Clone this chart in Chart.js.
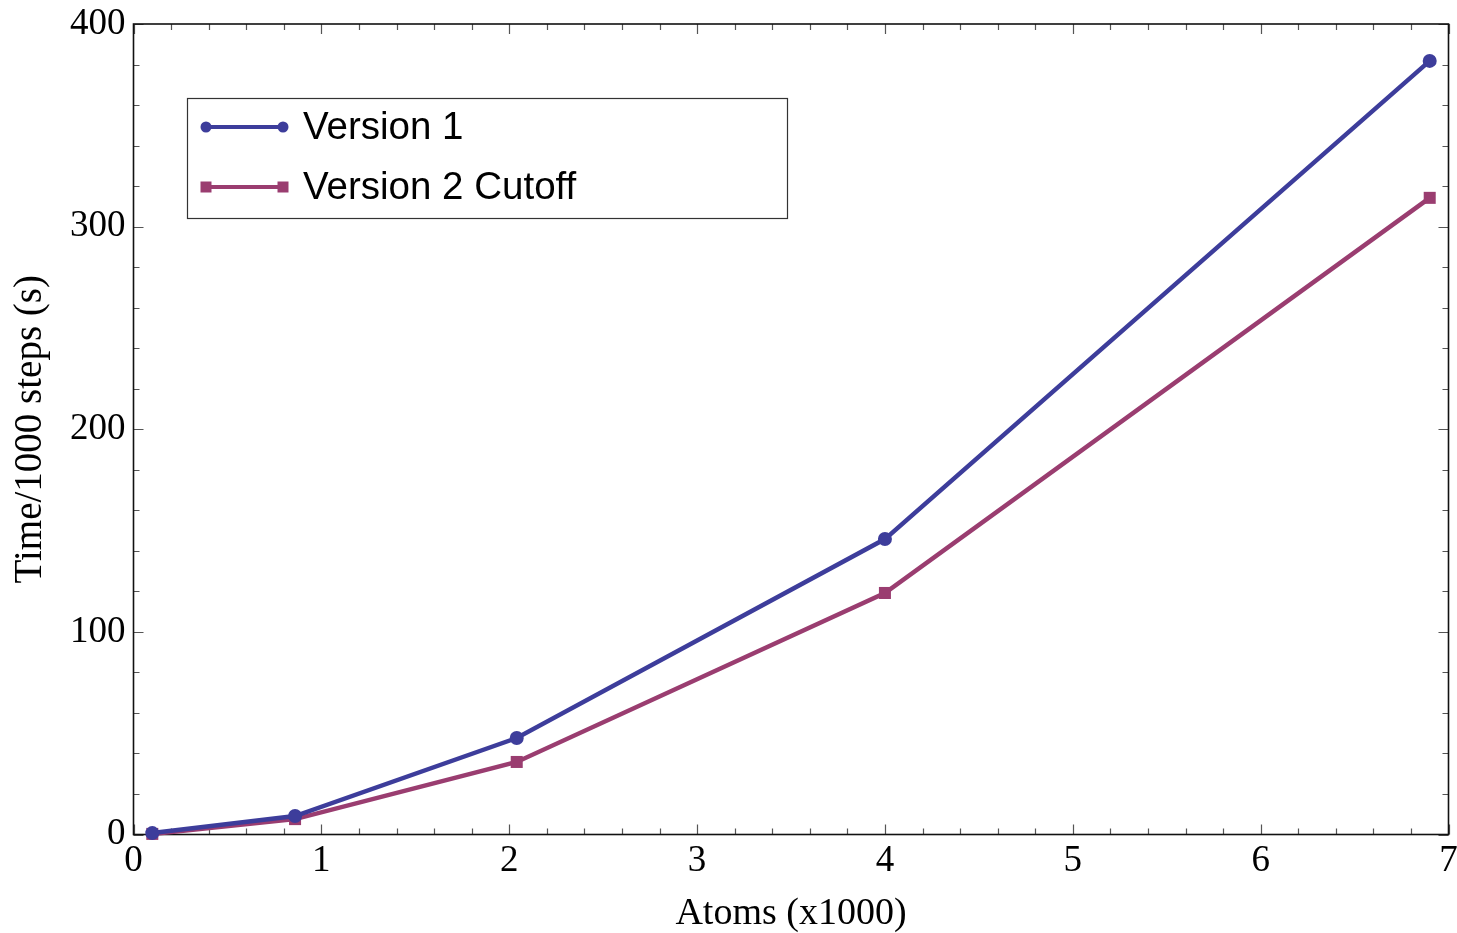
<!DOCTYPE html>
<html>
<head>
<meta charset="utf-8">
<script src="https://cdn.jsdelivr.net/npm/chart.js@4.4.1/dist/chart.umd.min.js"></script>
<style>
html,body{margin:0;padding:0;background:#fff;}
#wrap{width:1457px;height:933px;position:relative;}
</style>
</head>
<body>
<div id="wrap"><canvas id="c" width="1457" height="933"></canvas></div>
<script>
// ---- data ----
const atoms = [0.1, 0.86, 2.04, 4.0, 6.9];
const version1 = [0.7, 9.1, 47.6, 145.8, 381.8];
const version2Cutoff = [0.3, 7.6, 35.8, 119.2, 314.2];
const seriesNames = ["Version 1", "Version 2 Cutoff"];
const xTicks = [0, 1, 2, 3, 4, 5, 6, 7];
const yTicks = [0, 100, 200, 300, 400];
const xTitle = "Atoms (x1000)";
const yTitle = "Time/1000 steps (s)";

const BLUE = "#3d3d9b";
const MAROON = "#9a3d70";
const SERIF = "'Liberation Serif', 'Times New Roman', serif";
const SANS = "'Liberation Sans', Arial, sans-serif";

function pts(xs, ys){ return xs.map((x,i)=>({x:x, y:ys[i]})); }
function noPad(s){ s.paddingLeft = 0; s.paddingRight = 0; s.paddingTop = 0; s.paddingBottom = 0; }

const frameTicks = {
  id: 'frameTicks',
  beforeDatasetsDraw(chart){
    const ctx = chart.ctx, a = chart.chartArea;
    const xs = chart.scales.x, ys = chart.scales.y;
    ctx.save();
    ctx.strokeStyle = '#555';
    ctx.lineWidth = 1.2;
    ctx.beginPath();
    for (let v = 0; v <= 7.0001; v += 0.2) {
      const major = Math.abs(v - Math.round(v)) < 1e-6;
      const len = major ? 10 : 6;
      const px = Math.round(xs.getPixelForValue(v)) + 0.5;
      ctx.moveTo(px, a.bottom); ctx.lineTo(px, a.bottom - len);
      ctx.moveTo(px, a.top); ctx.lineTo(px, a.top + len);
    }
    for (let v = 0; v <= 400.001; v += 20) {
      const major = Math.abs(v/100 - Math.round(v/100)) < 1e-6;
      const len = major ? 10 : 6;
      const py = Math.round(ys.getPixelForValue(v)) + 0.5;
      ctx.moveTo(a.left, py); ctx.lineTo(a.left + len, py);
      ctx.moveTo(a.right, py); ctx.lineTo(a.right - len, py);
    }
    ctx.stroke();
    ctx.strokeStyle = '#111';
    ctx.lineWidth = 1.6;
    ctx.strokeRect(a.left, a.top, a.right - a.left, a.bottom - a.top);
    ctx.restore();
  }
};

const boxLegend = {
  id: 'boxLegend',
  afterDraw(chart){
    const ctx = chart.ctx;
    const bx = 187.5, by = 98.5, bw = 600, bh = 120;
    ctx.save();
    ctx.fillStyle = '#fff';
    ctx.fillRect(bx, by, bw, bh);
    ctx.strokeStyle = '#333';
    ctx.lineWidth = 1.2;
    ctx.strokeRect(bx, by, bw, bh);
    const rows = [127, 187];
    chart.data.datasets.forEach((ds, i) => {
      const y = rows[i];
      ctx.strokeStyle = ds.borderColor;
      ctx.fillStyle = ds.backgroundColor;
      ctx.lineWidth = 4;
      ctx.beginPath(); ctx.moveTo(206, y); ctx.lineTo(283, y); ctx.stroke();
      [206, 283].forEach(px => {
        ctx.beginPath();
        if (ds.pointStyle === 'rect') { ctx.rect(px - 5.5, y - 5.5, 11, 11); }
        else { ctx.arc(px, y, 5.5, 0, Math.PI * 2); }
        ctx.fill();
      });
      ctx.fillStyle = '#000';
      ctx.font = '38.5px ' + SANS;
      ctx.textBaseline = 'middle';
      ctx.textAlign = 'left';
      ctx.fillText(ds.label, 303, y + 1);
    });
    ctx.restore();
  }
};

new Chart(document.getElementById('c'), {
  type: 'line',
  data: {
    datasets: [
      { label: seriesNames[0], data: pts(atoms, version1), borderColor: BLUE, backgroundColor: BLUE,
        borderWidth: 4.5, pointStyle: 'circle', pointRadius: 7, pointHoverRadius: 7, pointBorderWidth: 0,
        clip: false, tension: 0 },
      { label: seriesNames[1], data: pts(atoms, version2Cutoff), borderColor: MAROON, backgroundColor: MAROON,
        borderWidth: 4.5, pointStyle: 'rect', pointRadius: 8.5, pointHoverRadius: 8.5, pointBorderWidth: 0,
        clip: false, tension: 0 }
    ]
  },
  options: {
    responsive: false,
    animation: false,
    devicePixelRatio: 1,
    layout: { padding: { left: 0, right: 8, top: 24, bottom: 0 } },
    plugins: { legend: { display: false }, tooltip: { enabled: false } },
    scales: {
      x: {
        type: 'linear', min: 0, max: 7,
        afterFit(s){ s.height = 98.5; noPad(s); },
        afterBuildTicks(s){ s.ticks = xTicks.map(v => ({value: v})); },
        grid: { display: false, drawTicks: false },
        border: { display: false },
        ticks: { color: '#000', font: { family: SERIF, size: 37 }, padding: 5, maxRotation: 0,
                 callback: v => String(v) },
        title: { display: true, text: xTitle, color: '#000', font: { family: SERIF, size: 38 }, padding: { top: 0, bottom: -4 } }
      },
      y: {
        type: 'linear', min: 0, max: 400,
        afterFit(s){ s.width = 133.5; noPad(s); },
        afterBuildTicks(s){ s.ticks = yTicks.map(v => ({value: v})); },
        grid: { display: false, drawTicks: false },
        border: { display: false },
        ticks: { color: '#000', font: { family: SERIF, size: 37 }, padding: 8,
                 callback: v => String(v) },
        title: { display: true, text: yTitle, color: '#000', font: { family: SERIF, size: 39 }, padding: { top: 7, bottom: 0 } }
      }
    }
  },
  plugins: [frameTicks, boxLegend]
});
</script>
</body>
</html>
